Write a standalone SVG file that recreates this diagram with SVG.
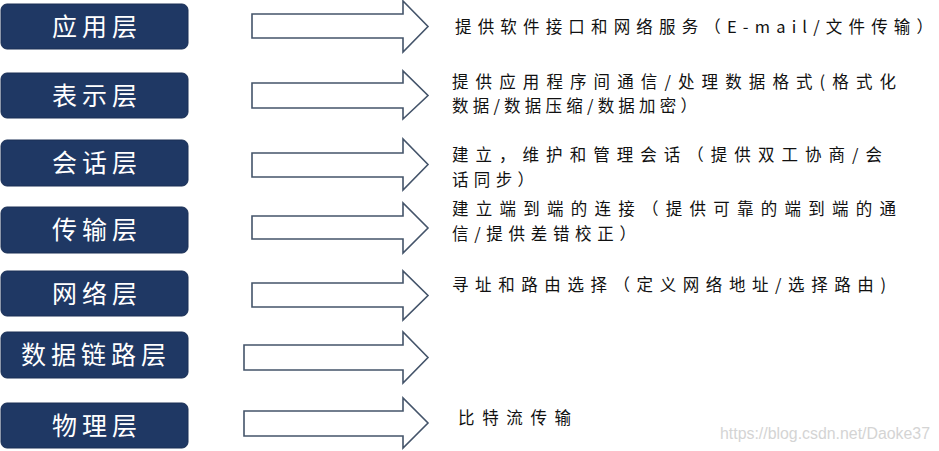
<svg xmlns="http://www.w3.org/2000/svg" width="939" height="451" viewBox="0 0 939 451">
<style>
.box{fill:#1f3864;stroke:#1a2f55;stroke-width:1}
.lbl{font-family:"Noto Sans CJK SC","Noto Sans",sans-serif;font-size:25px;fill:#ffffff;text-anchor:middle;letter-spacing:5px}
.arr{fill:#ffffff;stroke:#44546a;stroke-width:1.6;stroke-linejoin:miter}
.desc{font-family:"Noto Sans CJK SC","Noto Sans",sans-serif;font-size:16.5px;fill:#111111}
.wm{font-family:"Liberation Sans",Arial,sans-serif;font-size:16px;fill:#d4d4d4}
</style>
<rect width="939" height="451" fill="#ffffff"/>
<g id="layer-app"><rect class="box" x="1" y="4" width="187" height="45" rx="6"/><text class="lbl" x="97" y="36">应用层</text></g>
<g id="layer-pres"><rect class="box" x="1" y="73" width="187" height="45" rx="6"/><text class="lbl" x="97" y="105">表示层</text></g>
<g id="layer-session"><rect class="box" x="1" y="140" width="187" height="46" rx="6"/><text class="lbl" x="97" y="172">会话层</text></g>
<g id="layer-transport"><rect class="box" x="1" y="207" width="187" height="46" rx="6"/><text class="lbl" x="97" y="239">传输层</text></g>
<g id="layer-network"><rect class="box" x="1" y="271" width="187" height="45" rx="6"/><text class="lbl" x="97" y="303">网络层</text></g>
<g id="layer-datalink"><rect class="box" x="1" y="332" width="187" height="46" rx="6"/><text class="lbl" x="96" y="364">数据链路层</text></g>
<g id="layer-physical"><rect class="box" x="1" y="403" width="187" height="45" rx="6"/><text class="lbl" x="97" y="435">物理层</text></g>
<g id="connectors">
<polygon class="arr" points="252,14 403,14 403,1 428,26.5 403,52 403,38 252,38"/>
<polygon class="arr" points="252,83 403,83 403,71 428,95.5 403,119 403,108 252,108"/>
<polygon class="arr" points="252,153 403,153 403,139 428,164.5 403,190 403,177 252,177"/>
<polygon class="arr" points="252,216 403,216 403,203 428,228 403,253 403,239 252,239"/>
<polygon class="arr" points="252,283 403,283 403,271 428,295.5 403,320 403,307 252,307"/>
<polygon class="arr" points="244,345 403,345 403,332 428,357.5 403,383 403,370 244,370"/>
<polygon class="arr" points="244,411 403,411 403,398 428,423 403,448 403,436 244,436"/>
</g>
<g id="descriptions">
<text class="desc" x="455" y="33" textLength="478" lengthAdjust="spacing">提供软件接口和网络服务（E-mail/文件传输）</text>
<text class="desc" x="452" y="88" textLength="444" lengthAdjust="spacing">提供应用程序间通信/处理数据格式(格式化</text>
<text class="desc" x="452" y="112" textLength="245" lengthAdjust="spacing">数据/数据压缩/数据加密）</text>
<text class="desc" x="452" y="161" textLength="430" lengthAdjust="spacing">建立，维护和管理会话（提供双工协商/会</text>
<text class="desc" x="452" y="186" textLength="82" lengthAdjust="spacing">话同步）</text>
<text class="desc" x="452" y="215" textLength="444" lengthAdjust="spacing">建立端到端的连接（提供可靠的端到端的通</text>
<text class="desc" x="452" y="240" textLength="184" lengthAdjust="spacing">信/提供差错校正）</text>
<text class="desc" x="452" y="291" textLength="434" lengthAdjust="spacing">寻址和路由选择（定义网络地址/选择路由)</text>
<text class="desc" x="458" y="424" textLength="113" lengthAdjust="spacing">比特流传输</text>
</g>
<text class="wm" x="720" y="439" textLength="210" lengthAdjust="spacingAndGlyphs">https://blog.csdn.net/Daoke37</text>
</svg>
